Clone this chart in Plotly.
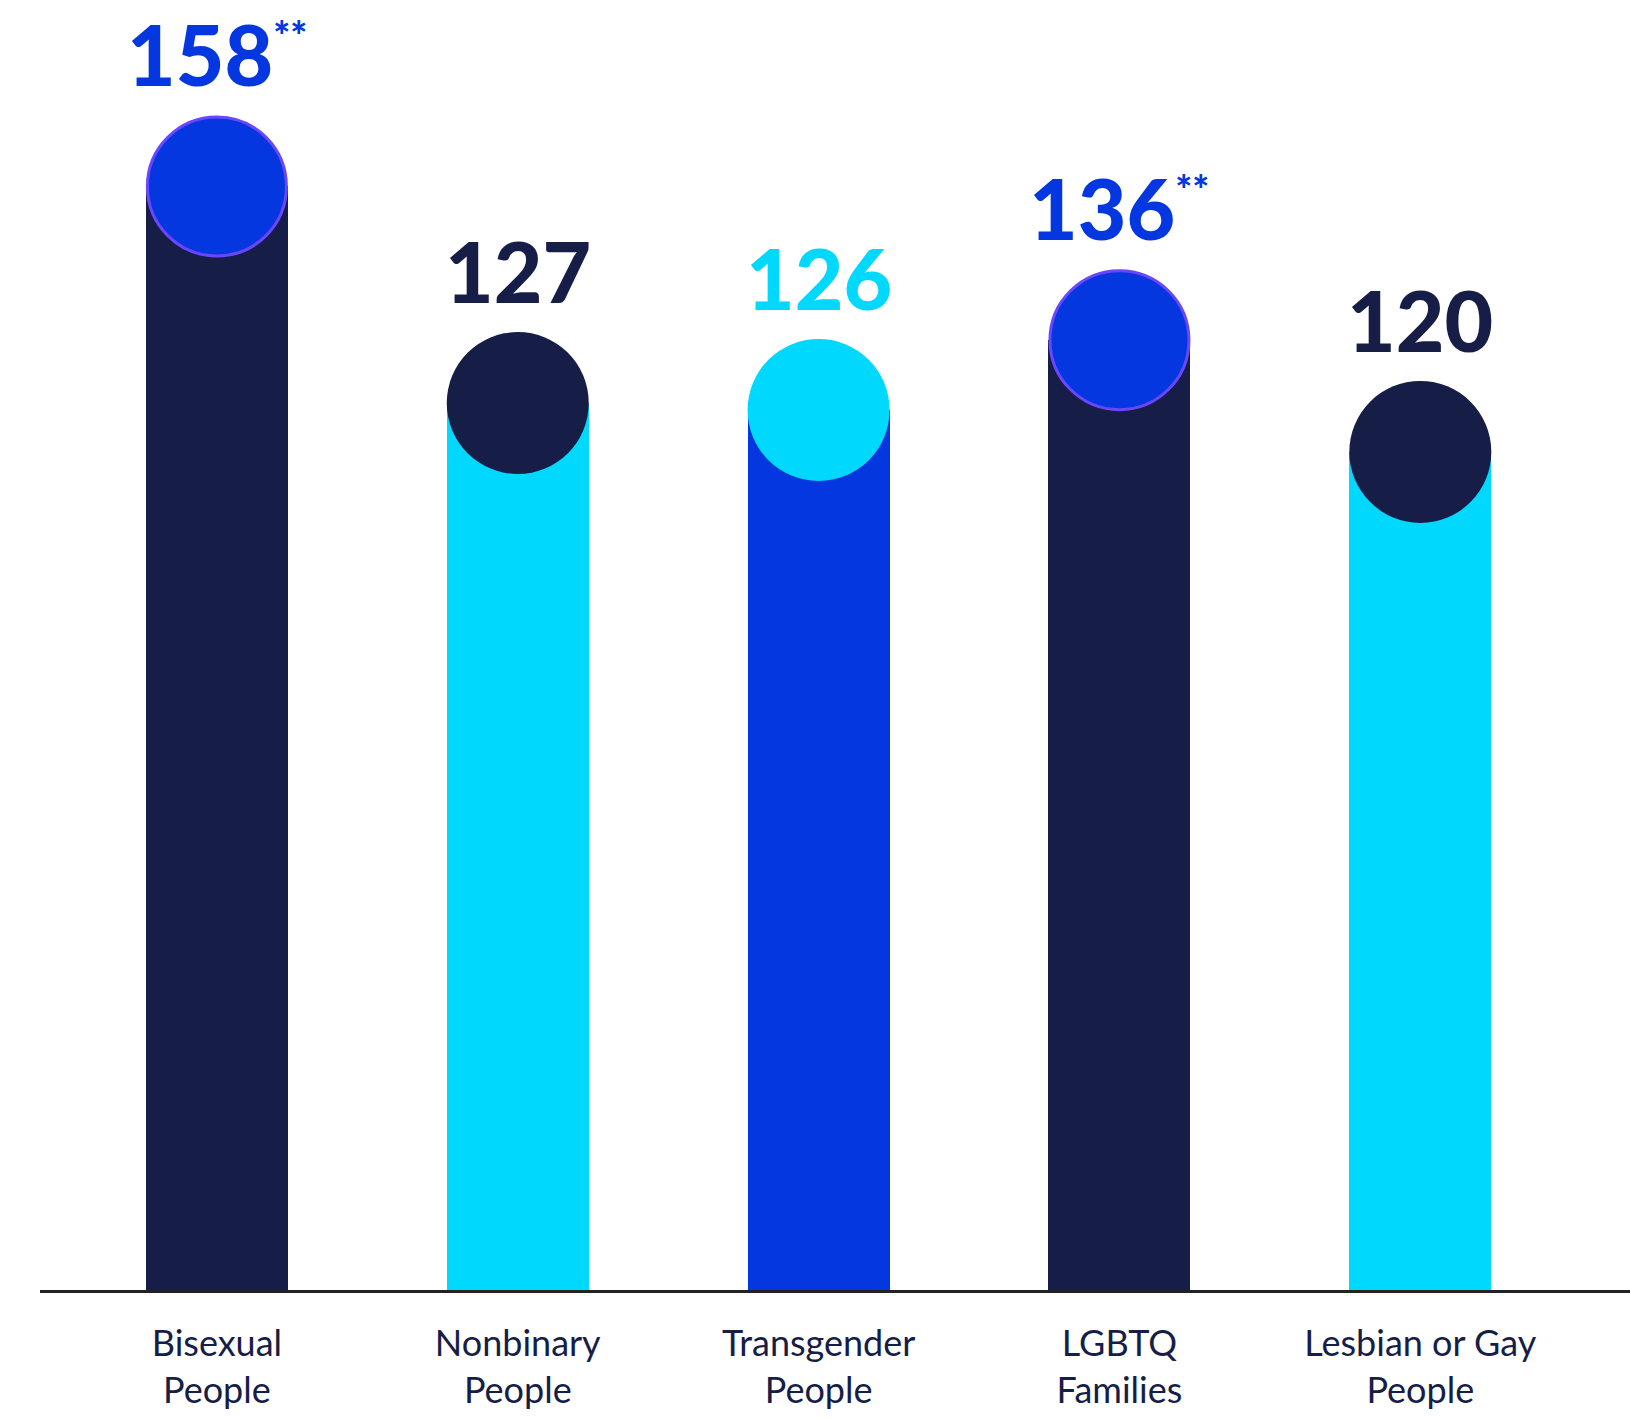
import plotly.graph_objects as go

# Chart data
categories = ["Bisexual<br>People", "Nonbinary<br>People", "Transgender<br>People",
              "LGBTQ<br>Families", "Lesbian or Gay<br>People"]
values = [158, 127, 126, 136, 120]
label_suffix = ["**", "", "", "**", ""]

NAVY = "#161E48"
CYAN = "#00D8FE"
BLUE = "#0437DF"
OUTLINE = "#6A47FF"

bar_colors = [NAVY, CYAN, BLUE, NAVY, CYAN]
dot_colors = [BLUE, NAVY, CYAN, BLUE, NAVY]
dot_outline = [True, False, False, True, False]

fig = go.Figure()

# Columns
fig.add_trace(go.Bar(
    x=categories, y=values, width=0.472,
    marker=dict(color=bar_colors, line=dict(width=0)),
    hoverinfo="skip", showlegend=False,
))

# Round caps sitting on top of each column
fig.add_trace(go.Scatter(
    x=categories, y=values, mode="markers",
    marker=dict(
        size=[139 if o else 142 for o in dot_outline],
        color=dot_colors,
        line=dict(color=[OUTLINE if o else c for o, c in zip(dot_outline, dot_colors)],
                  width=[3 if o else 0 for o in dot_outline]),
        opacity=1,
    ),
    cliponaxis=False, hoverinfo="skip", showlegend=False,
))

# Value labels above the caps
for cat, val, suf, col in zip(categories, values, label_suffix, dot_colors):
    txt = f"{val}"
    if suf:
        txt += f"<sup><span style='font-size:40px'>{suf}</span></sup>"
    fig.add_annotation(
        x=cat, y=val, text=txt, showarrow=False,
        xanchor="center", yanchor="bottom", yshift=80,
        font=dict(family="Lato", size=84, color=col, weight=900),
    )

fig.update_layout(
    width=1630, height=1418,
    margin=dict(l=40, r=0, t=0, b=128),
    paper_bgcolor="white", plot_bgcolor="white",
    bargap=0,
    xaxis=dict(
        range=[-0.588, 4.697], showgrid=False, zeroline=False,
        showline=True, linecolor="#222222", linewidth=3,
        ticks="outside", ticklen=20, tickcolor="rgba(0,0,0,0)",
        tickfont=dict(family="Lato", size=36, color=NAVY),
    ),
    yaxis=dict(range=[0, 184.7], visible=False, fixedrange=True),
)

fig.write_html("out.html")
